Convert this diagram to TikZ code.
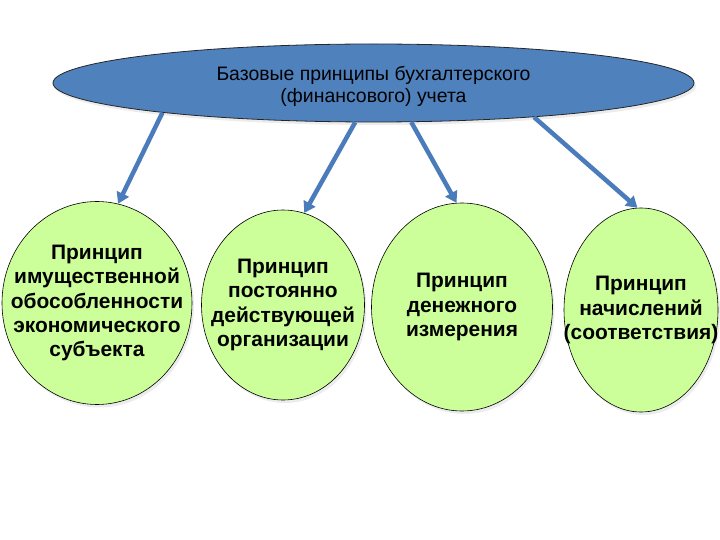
\documentclass[tikz,border=0pt]{standalone}
\usepackage{fontspec}
\setmainfont{Liberation Sans}
\usetikzlibrary{arrows.meta,shapes.geometric,shadows}
\definecolor{topblue}{RGB}{79,129,189}
\definecolor{arrblue}{RGB}{74,123,186}
\definecolor{leafgreen}{RGB}{204,255,153}
\tikzset{
  topell/.style={draw=black!85, ellipse, fill=topblue, line width=0.8pt, inner sep=0pt,
    drop shadow={shadow xshift=2pt, shadow yshift=-3pt, fill=black!30, opacity=0.25}},
  circ/.style={draw=black, ellipse, fill=leafgreen, line width=0.6pt, inner sep=0pt,
    drop shadow={shadow xshift=2pt, shadow yshift=-3pt, fill=black!30, opacity=0.25}},
  ctxt/.style={align=center, font=\fontsize{21}{24.5}\selectfont\bfseries},
  ttxt/.style={align=center, font=\fontsize{19.5}{22}\selectfont},
  arr/.style={-{Triangle[length=11bp, width=13bp]}, line width=4.5bp, draw=arrblue},
}

\begin{document}
\begin{tikzpicture}[x=1bp, y=-1bp]
\useasboundingbox (0,0) rectangle (720,540);

\node[topell, minimum width=641bp, minimum height=78bp] (top) at (373.5,83) {};
\node[ttxt, yshift=-3bp] (ttop) at (top)
  {Базовые принципы бухгалтерского\\(финансового) учета};

\node[circ, minimum width=190bp, minimum height=203bp] (c1) at (97,303) {};
\node[circ, minimum width=163bp, minimum height=190bp] (c2) at (283,305) {};
\node[circ, minimum width=181bp, minimum height=208bp] (c3) at (462,307) {};
\node[circ, minimum width=154bp, minimum height=204bp] (c4) at (641,310) {};

% Circle labels
\node[ctxt] (t1) at (c1) {Принцип\\имущественной\\обособленности\\экономического\\субъекта};
\node[ctxt] (t2) at (c2) {Принцип\\постоянно\\действующей\\организации};
\node[ctxt] (t3) at (c3) {Принцип\\денежного\\измерения};
\node[ctxt] (t4) at (c4) {Принцип\\начислений\\(соответствия)};

\draw[arr] (top.188) -- (c1.78);
\draw[arr] (top.245) -- (c2.77);
\draw[arr] (top.314) -- (c3.93);
\draw[arr] (top.348) -- (c4.92);

\end{tikzpicture}
\end{document}
